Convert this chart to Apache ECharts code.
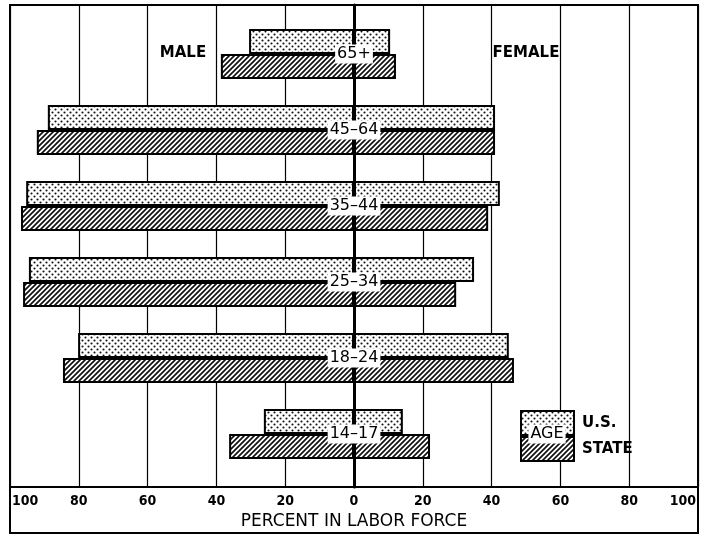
<!DOCTYPE html>
<html><head><meta charset="utf-8">
<script src="https://cdn.jsdelivr.net/npm/echarts@6/dist/echarts.min.js"></script>
<style>html,body{margin:0;padding:0;background:#fff}#c{width:706px;height:536px}</style>
</head><body><div id="c"></div>
<script>
// ---- data ----
const ageGroups = ['65+', '45–64', '35–44', '25–34', '18–24', '14–17'];
const usMale = [30.5, 89, 95.3, 94.5, 80.2, 26.2];
const stateMale = [38.7, 92.2, 96.8, 96.2, 84.6, 36.3];
const usFemale = [10.5, 41, 42.4, 34.9, 45, 14.2];
const stateFemale = [12.2, 41, 39, 29.7, 46.5, 22.1];
const tickLabels = ['100', '80', '60', '40', '20', '0', '20', '40', '60', '80', '100'];
const seriesNames = ['U.S.', 'STATE'];

// ---- patterns ----
function dotPattern() {
  const c = document.createElement('canvas'); c.width = 6; c.height = 6;
  const g = c.getContext('2d');
  g.fillStyle = '#fff'; g.fillRect(0, 0, 6, 6);
  g.fillStyle = '#111';
  g.beginPath(); g.arc(1.5, 1.5, 1.05, 0, Math.PI * 2); g.fill();
  g.beginPath(); g.arc(4.5, 4.5, 1.05, 0, Math.PI * 2); g.fill();
  return c;
}
function hatchPattern() {
  const s = 5;
  const c = document.createElement('canvas'); c.width = s; c.height = s;
  const g = c.getContext('2d');
  g.fillStyle = '#fff'; g.fillRect(0, 0, s, s);
  g.strokeStyle = '#111'; g.lineWidth = 1.7;
  g.beginPath();
  g.moveTo(-1, s + 1); g.lineTo(s + 1, -1);
  g.moveTo(-1, 1); g.lineTo(1, -1);
  g.moveTo(s - 1, s + 1); g.lineTo(s + 1, s - 1);
  g.stroke();
  return c;
}
const dotFill = { image: dotPattern(), repeat: 'repeat' };
const hatchFill = { image: hatchPattern(), repeat: 'repeat' };
const usStyle = { color: dotFill, borderColor: '#000', borderWidth: 2 };
const stStyle = { color: hatchFill, borderColor: '#000', borderWidth: 2 };

const chart = echarts.init(document.getElementById('c'), null, { renderer: 'canvas' });
const barCommon = { type: 'bar', xAxisIndex: 1, yAxisIndex: 1, barWidth: 25, barGap: '0%', silent: true };

chart.setOption({
  animation: false,
  backgroundColor: '#fff',
  grid: [
    { left: 10, right: 8, top: 5, height: 482, show: true, borderColor: '#000', borderWidth: 2, backgroundColor: 'transparent' },
    { left: 10, right: 8, top: 16, height: 456 }
  ],
  xAxis: [
    {
      type: 'value', gridIndex: 0, min: -100, max: 100, interval: 20,
      axisLine: { show: false }, axisTick: { show: false },
      splitLine: { show: true, lineStyle: { color: '#000', width: 1.2 } },
      axisLabel: {
        show: true, margin: 7, color: '#000', fontFamily: 'DejaVu Sans Condensed, DejaVu Sans', fontWeight: 'bold', fontSize: 14,
        formatter: (v, i) => tickLabels[i], alignMinLabel: 'left', alignMaxLabel: 'right', padding: [0, 2, 0, 2]
      },
      name: 'PERCENT IN LABOR FORCE', nameLocation: 'middle', nameGap: 26,
      nameTextStyle: { color: '#000', fontFamily: 'DejaVu Sans', fontSize: 17 }
    },
    { type: 'value', gridIndex: 1, min: -100, max: 100, interval: 20, show: false }
  ],
  yAxis: [
    {
      type: 'value', gridIndex: 0, min: 0, max: 1, z: 5,
      axisLine: { show: true, onZero: true, lineStyle: { color: '#000', width: 3 } },
      axisTick: { show: false }, axisLabel: { show: false }, splitLine: { show: false }
    },
    { type: 'category', gridIndex: 1, data: ageGroups, inverse: true, show: false }
  ],
  legend: {
    data: seriesNames, orient: 'vertical', left: 520, top: 410, padding: 0,
    itemWidth: 53, itemHeight: 24, itemGap: 0, icon: 'rect', selectedMode: false,
    textStyle: { color: '#000', fontFamily: 'DejaVu Sans', fontWeight: 'bold', fontSize: 15, padding: [0, 0, 0, 3] }
  },
  series: [
    Object.assign({ name: seriesNames[0], stack: 'us', data: usMale.map(v => -v), itemStyle: usStyle }, barCommon),
    Object.assign({ name: seriesNames[0], stack: 'us', data: usFemale, itemStyle: usStyle }, barCommon),
    Object.assign({ name: seriesNames[1], stack: 'st', data: stateMale.map(v => -v), itemStyle: stStyle }, barCommon),
    Object.assign({ name: seriesNames[1], stack: 'st', data: stateFemale, itemStyle: stStyle }, barCommon),
    {
      type: 'scatter', xAxisIndex: 1, yAxisIndex: 1, z: 10, silent: true,
      symbol: 'rect', symbolSize: 1, itemStyle: { color: '#fff', opacity: 1 },
      data: ageGroups.map(a => [0, a]),
      label: {
        show: true, position: 'inside', formatter: p => p.value[1],
        color: '#000', fontFamily: 'DejaVu Sans', fontSize: 16, textBorderWidth: 0, opacity: 1,
        backgroundColor: '#fff', padding: [2, 2, 1, 2]
      }
    }
  ],
  graphic: [
    { type: 'rect', shape: { x: 10, y: 487, width: 688, height: 46 }, style: { fill: 'none', stroke: '#000', lineWidth: 2 }, z: 10 },
    { type: 'text', x: 183, y: 53, style: { text: 'MALE', fill: '#000', font: 'bold 15px "DejaVu Sans"', textAlign: 'center', textVerticalAlign: 'middle' }, z: 10 },
    { type: 'text', x: 526, y: 53, style: { text: 'FEMALE', fill: '#000', font: 'bold 15px "DejaVu Sans"', textAlign: 'center', textVerticalAlign: 'middle' }, z: 10 },
    { type: 'text', x: 547, y: 434, style: { text: 'AGE', fill: '#000', font: '16px "DejaVu Sans"', textAlign: 'center', textVerticalAlign: 'middle', backgroundColor: '#fff', padding: [2, 2, 1, 2] }, z: 10 }
  ]
});
</script>
</body></html>
